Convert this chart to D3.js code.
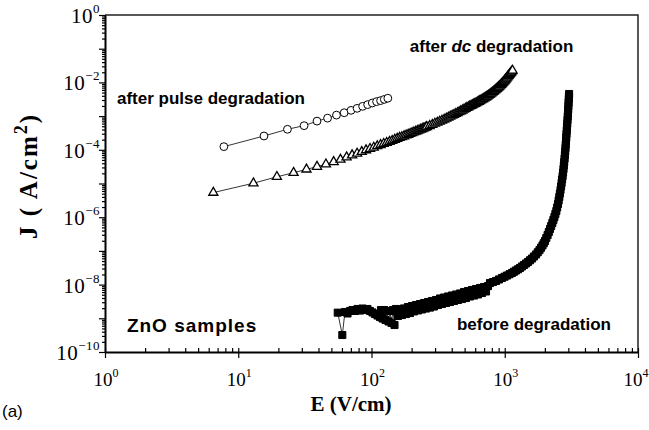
<!DOCTYPE html>
<html><head><meta charset="utf-8">
<script src="https://cdn.jsdelivr.net/npm/d3@7"></script>
<style>
html,body{margin:0;padding:0;background:#fff;}
svg{display:block;}
</style></head>
<body>
<svg id="chart" width="649" height="430"></svg>
<script>
// ---- data ----
const xTickExponents = [0, 1, 2, 3, 4];
const yTickExponents = [0, -2, -4, -6, -8, -10];

// after pulse degradation (open circles)
const pulseE = [7.8, 15.6, 23.4, 31.2, 39.0, 46.8, 54.6, 62.4, 70.2, 78.0, 85.8, 93.6, 101.4, 109.2, 117.0, 124.8, 132.6];
const pulseJ = [1.24e-4, 2.57e-4, 4.06e-4, 5.2e-4, 7.1e-4, 8.7e-4, 1.07e-3, 1.26e-3, 1.48e-3, 1.70e-3, 1.95e-3, 2.19e-3, 2.45e-3, 2.69e-3, 2.88e-3, 3.13e-3, 3.39e-3];

// after dc degradation (open triangles)
const dcE = [6.5, 13, 19.5, 26, 32.5, 39, 45.5, 52, 58.5, 65, 71.5, 78, 84.5, 91, 97.5, 104, 110.5, 117, 123.5, 130,
  136.5, 143, 149.5, 156, 162.5, 169, 175.5, 182, 188.5, 195, 201.5, 208, 214.5, 221, 227.5, 234, 240.5, 247, 253.5, 260,
  273, 286, 299, 312, 325, 338, 351, 364, 377, 390, 403, 416, 429, 442, 455, 468, 481, 494, 507, 520,
  533, 546, 559, 572, 585, 598, 611, 624, 637, 650, 663, 676, 689, 702, 715, 728, 741, 754, 767, 780, 793, 806, 819, 832,
  845, 858, 871, 884, 897, 910, 923, 936, 949, 962, 975, 988, 1001, 1014, 1027, 1040, 1053, 1066, 1079, 1092, 1105, 1118, 1131, 1144];
const dcJ = [5.37e-6, 1.02e-5, 1.58e-5, 2.09e-5, 2.63e-5, 3.16e-5, 3.72e-5, 4.37e-5, 5.13e-5, 6.03e-5, 6.92e-5, 7.76e-5, 8.71e-5, 9.77e-5, 1.07e-4, 1.17e-4, 1.29e-4, 1.40e-4, 1.51e-4, 1.62e-4,
  1.74e-4, 1.86e-4, 2.00e-4, 2.14e-4, 2.29e-4, 2.40e-4, 2.54e-4, 2.69e-4, 2.82e-4, 2.99e-4, 3.16e-4, 3.31e-4, 3.47e-4, 3.63e-4, 3.80e-4, 3.98e-4, 4.17e-4, 4.37e-4, 4.57e-4, 4.79e-4,
  5.13e-4, 5.56e-4, 6.03e-4, 6.46e-4, 6.92e-4, 7.41e-4, 7.94e-4, 8.51e-4, 9.12e-4, 9.77e-4, 1.04e-3, 1.10e-3, 1.17e-3, 1.24e-3, 1.32e-3, 1.40e-3, 1.48e-3, 1.57e-3, 1.66e-3, 1.76e-3,
  1.85e-3, 1.95e-3, 2.04e-3, 2.14e-3, 2.24e-3, 2.34e-3, 2.45e-3, 2.57e-3, 2.69e-3, 2.82e-3, 2.95e-3, 3.09e-3, 3.24e-3, 3.39e-3, 3.55e-3, 3.72e-3, 3.89e-3, 4.07e-3, 4.29e-3, 4.52e-3, 4.76e-3, 5.01e-3, 5.28e-3, 5.56e-3,
  5.86e-3, 6.17e-3, 6.50e-3, 6.84e-3, 7.21e-3, 7.59e-3, 8.04e-3, 8.51e-3, 9.02e-3, 9.55e-3, 1.02e-2, 1.08e-2, 1.15e-2, 1.23e-2, 1.31e-2, 1.40e-2, 1.49e-2, 1.58e-2, 1.68e-2, 1.78e-2, 1.89e-2, 2.00e-2, 2.13e-2, 2.26e-2];

// before degradation (filled squares)
const beforeE = [55.8, 60.4, 63.2, 66.1, 69.0, 72.0, 75.2, 78.5, 82.0, 85.6, 89.4, 93.3, 97.4, 101.7, 106.2, 110.9, 115.8, 117.8, 121.0, 124.1,
  127.4, 130.7, 134.2, 137.7, 141.3, 145.0, 148.8, 152.7,
  158.1, 163.7, 169.4, 175.4, 181.5, 187.9, 194.5, 201.4, 208.4, 215.8, 223.4, 231.2, 239.3, 247.7, 256.5, 265.5, 274.8, 284.4, 294.4, 304.9,
  315.6, 326.7, 338.2, 350.0, 362.3, 375.1, 388.2, 401.9, 416.0, 430.6, 445.8, 461.6, 477.8, 494.6, 512.0, 530.0, 548.6, 567.9, 587.9, 608.5,
  629.9, 652.2, 675.1, 698.8, 723.4, 748.8,
  775, 816, 860, 905, 953, 996, 1040, 1086, 1133, 1173, 1214, 1257, 1301, 1347, 1395, 1444, 1494, 1547, 1601, 1657,
  1716, 1769, 1823, 1871, 1920, 1962, 2005, 2050, 2097, 2141, 2186, 2230, 2275, 2317, 2359, 2398, 2438, 2473, 2509, 2538,
  2567, 2594, 2621, 2646, 2671, 2694, 2718, 2739, 2760, 2777, 2794, 2811, 2828, 2842, 2857, 2869, 2882, 2894, 2907, 2919,
  2932, 2945, 2958, 2970, 2983, 2993, 3004, 3014, 3025, 3032, 3040];
const beforeJ = [1.47e-9, 3.19e-10, 1.54e-9, 1.39e-9, 1.65e-9, 1.76e-9, 1.65e-9, 1.89e-9, 1.70e-9, 1.95e-9, 1.76e-9, 1.89e-9, 1.65e-9, 1.49e-9, 1.34e-9, 1.21e-9, 1.09e-9, 1.76e-9, 9.86e-10, 1.76e-9,
  8.91e-10, 1.65e-9, 8.04e-10, 1.65e-9, 7.26e-10, 1.76e-9, 6.32e-10, 1.89e-9,
  1.17e-9, 1.82e-9, 1.25e-9, 1.96e-9, 1.34e-9, 2.16e-9, 1.43e-9, 2.31e-9, 1.60e-9, 2.48e-9, 1.71e-9, 2.65e-9, 1.83e-9, 2.84e-9, 1.95e-9, 3.05e-9, 2.08e-9, 3.26e-9, 2.24e-9, 3.49e-9,
  2.48e-9, 3.87e-9, 2.66e-9, 4.14e-9, 2.85e-9, 4.44e-9, 3.04e-9, 4.75e-9, 3.26e-9, 5.08e-9, 3.50e-9, 5.45e-9, 3.73e-9, 6.03e-9, 4.00e-9, 6.46e-9, 4.44e-9, 6.93e-9, 4.74e-9, 7.40e-9,
  5.10e-9, 7.94e-9, 5.63e-9, 8.48e-9, 6.25e-9, 9.03e-9,
  1.11e-8, 1.19e-8, 1.28e-8, 1.42e-8, 1.57e-8, 1.71e-8, 1.86e-8, 2.03e-8, 2.21e-8, 2.41e-8, 2.62e-8, 2.85e-8, 3.11e-8, 3.45e-8, 3.82e-8, 4.23e-8, 4.69e-8, 5.28e-8, 5.94e-8, 6.82e-8,
  7.82e-8, 9.10e-8, 1.06e-7, 1.24e-7, 1.45e-7, 1.69e-7, 1.97e-7, 2.41e-7, 2.96e-7, 3.64e-7, 4.47e-7, 5.48e-7, 6.73e-7, 8.24e-7, 1.01e-6, 1.24e-6, 1.53e-6, 1.94e-6, 2.47e-6, 3.13e-6,
  3.97e-6, 5.04e-6, 6.41e-6, 8.17e-6, 1.04e-5, 1.32e-5, 1.67e-5, 2.12e-5, 2.69e-5, 3.42e-5, 4.35e-5, 5.52e-5, 7.01e-5, 8.90e-5, 1.13e-4, 1.43e-4, 1.82e-4, 2.31e-4, 2.94e-4, 3.74e-4,
  4.75e-4, 6.03e-4, 7.66e-4, 9.75e-4, 1.24e-3, 1.57e-3, 2.00e-3, 2.53e-3, 3.21e-3, 3.81e-3, 4.53e-3];

// annotation anchors (E, J of the text start / baseline)
const labels = [
  {text: "after pulse degradation", e: 1.23, j: 2.29e-3},
  {text: "after dc degradation", e: 194, j: 7.98e-2},
  {text: "before degradation", e: 438, j: 4.5e-10},
  {text: "ZnO samples", e: 1.46, j: 3.92e-10}
];

// ---- chart ----
const L = 105, R = 638, T = 15, B = 352;
const svg = d3.select("#chart");
const x = d3.scaleLog().domain([1, 1e4]).range([L, R]);
const y = d3.scaleLog().domain([1e-10, 1]).range([B, T]);

const serif = "'Liberation Serif','Times New Roman',serif";
const sans = "'Liberation Sans',Arial,sans-serif";

function decadeTicks(lo, hi) {
  const out = [];
  for (let p = lo; p < hi; p++) for (let m = 1; m < 10; m++) out.push(m * Math.pow(10, p));
  out.push(Math.pow(10, hi));
  return out;
}
const xTicks = decadeTicks(0, 4);
const yTicks = decadeTicks(-10, 0);
const isDecade = v => Math.abs(Math.log10(v) - Math.round(Math.log10(v))) < 1e-9;

// frame (top & right)
svg.append("path")
  .attr("d", `M${L},${T}H${R}V${B}`)
  .attr("fill", "none").attr("stroke", "#222").attr("stroke-width", 1.5);

// x axis
const gx = svg.append("g").attr("transform", `translate(0,${B})`)
  .call(d3.axisBottom(x).tickValues(xTicks).tickFormat(() => "").tickSize(0).tickSizeOuter(0));
gx.select(".domain").attr("stroke", "#000").attr("stroke-width", 2);
gx.selectAll(".tick line")
  .attr("y1", d => isDecade(d) ? 6 : 0)
  .attr("y2", -4)
  .attr("stroke", "#000").attr("stroke-width", 1.2);

// y axis
const gy = svg.append("g").attr("transform", `translate(${L},0)`)
  .call(d3.axisLeft(y).tickValues(yTicks).tickFormat(() => "").tickSize(0).tickSizeOuter(0));
gy.select(".domain").attr("stroke", "#000").attr("stroke-width", 2);
gy.selectAll(".tick line")
  .attr("x1", d => isDecade(d) ? -6 : -3)
  .attr("x2", 1)
  .attr("stroke", "#000").attr("stroke-width", 1.2);

// x tick labels
xTickExponents.forEach(p => {
  const t = svg.append("text").attr("x", x(Math.pow(10, p)) + (p === 4 ? -2 : 1)).attr("y", 386)
    .attr("font-family", serif).attr("font-size", 19).attr("text-anchor", "middle").attr("fill", "#000");
  t.append("tspan").text("10");
  t.append("tspan").attr("dy", -9).attr("font-size", 12).text(p);
});
// y tick labels
yTickExponents.forEach(p => {
  const t = svg.append("text").attr("x", 100).attr("y", y(Math.pow(10, p)) + 8)
    .attr("font-family", serif).attr("font-size", 21).attr("letter-spacing", 0.5)
    .attr("text-anchor", "end").attr("fill", "#000");
  t.append("tspan").text("10");
  t.append("tspan").attr("dy", -10).attr("font-size", 13).text(p < 0 ? "\u2212" + (-p) : p);
});

// axis titles
svg.append("text").attr("x", 351).attr("y", 411)
  .attr("font-family", serif).attr("font-weight", "bold").attr("font-size", 21)
  .attr("text-anchor", "middle").text("E (V/cm)");
const yt = svg.append("text").attr("transform", "translate(37,176) rotate(-90)")
  .attr("font-family", serif).attr("font-weight", "bold").attr("font-size", 25)
  .attr("letter-spacing", 2).attr("text-anchor", "middle");
yt.append("tspan").text("J ( A/cm");
yt.append("tspan").attr("dy", -10).attr("font-size", 18).text("2");
yt.append("tspan").attr("dy", 10).text(")");

svg.append("text").attr("x", 2).attr("y", 417).attr("font-family", sans).attr("font-size", 17).text("(a)");

// series drawing
const line = d3.line().x(d => x(d[0])).y(d => y(d[1]));
function series(E, J, type, size, fill, sw) {
  const pts = E.map((e, i) => [e, J[i]]);
  svg.append("path").attr("d", line(pts)).attr("fill", "none").attr("stroke", "#000").attr("stroke-width", 0.8);
  const sym = d3.symbol().type(type).size(size);
  svg.append("g").selectAll("path").data(pts).join("path")
    .attr("transform", d => `translate(${x(d[0])},${y(d[1])})`)
    .attr("d", sym)
    .attr("fill", fill).attr("stroke", "#000").attr("stroke-width", sw);
}
series(beforeE, beforeJ, d3.symbolSquare, 50, "#000", 1);
series(dcE, dcJ, d3.symbolTriangle, 36, "#fff", 1.3);
series(pulseE, pulseJ, d3.symbolCircle, 48, "#fff", 1);

// annotations
labels.forEach(l => {
  const zno = l.text === "ZnO samples";
  const t = svg.append("text").attr("x", x(l.e)).attr("y", y(l.j))
    .attr("font-family", sans).attr("font-weight", "bold")
    .attr("font-size", zno ? 19 : 17).attr("letter-spacing", zno ? 1 : 0).attr("fill", "#000");
  if (l.text.includes(" dc ")) {
    t.append("tspan").text("after ");
    t.append("tspan").attr("font-style", "italic").text("dc");
    t.append("tspan").text(" degradation");
  } else {
    t.text(l.text);
  }
});
</script>
</body></html>
